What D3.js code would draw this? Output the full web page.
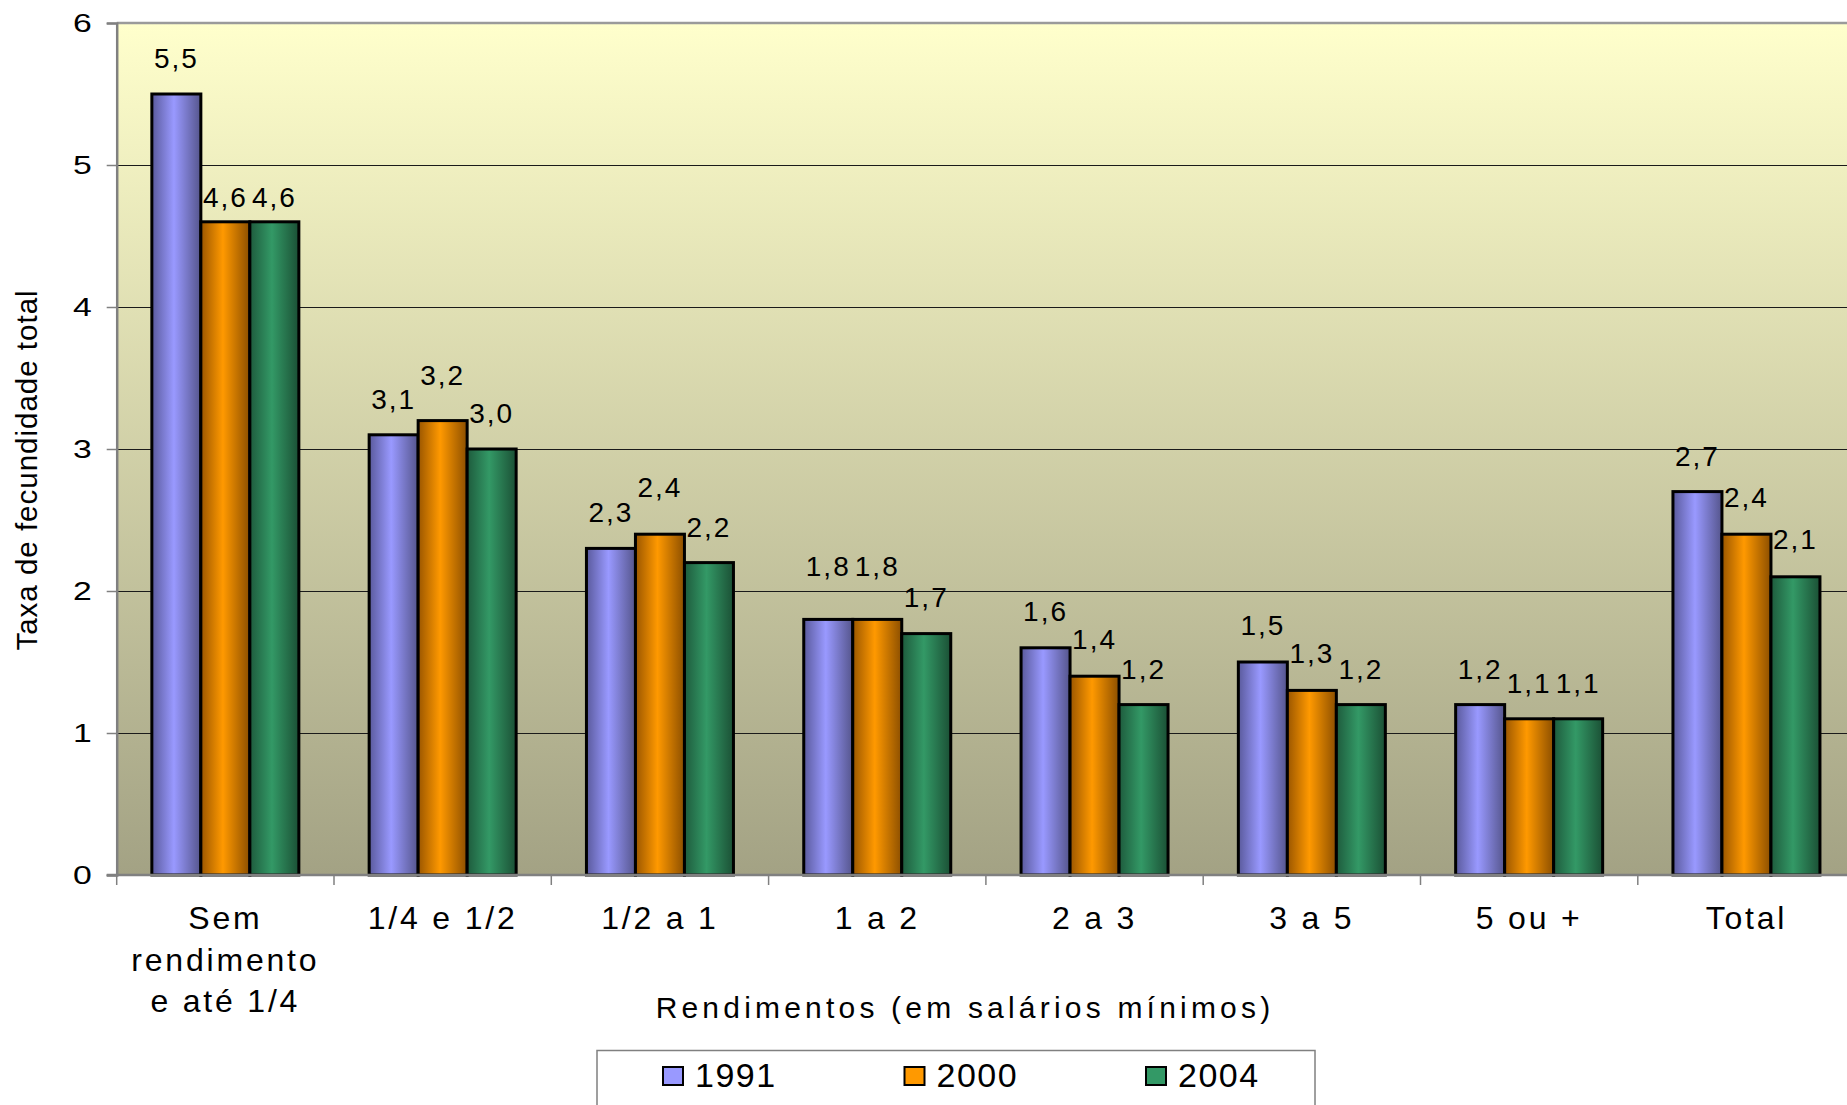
<!DOCTYPE html>
<html>
<head>
<meta charset="utf-8">
<script src="https://cdn.jsdelivr.net/npm/d3@7"></script>
<style>
  html, body { margin: 0; padding: 0; background: #ffffff; overflow: hidden; }
  svg { display: block; }
  text { font-family: "Liberation Sans", Arial, Helvetica, sans-serif; fill: #000; }
</style>
</head>
<body>
<svg id="chart" width="1847" height="1105"></svg>
<script>
// Taxa de fecundidade total por classe de rendimento (salários mínimos)
const categories = [
  ["Sem", "rendimento", "e até 1/4"],
  ["1/4 e 1/2"],
  ["1/2 a 1"],
  ["1 a 2"],
  ["2 a 3"],
  ["3 a 5"],
  ["5 ou +"],
  ["Total"]
];
const seriesNames = ["1991", "2000", "2004"];
const values1991 = [5.5, 3.1, 2.3, 1.8, 1.6, 1.5, 1.2, 2.7];
const values2000 = [4.6, 3.2, 2.4, 1.8, 1.4, 1.3, 1.1, 2.4];
const values2004 = [4.6, 3.0, 2.2, 1.7, 1.2, 1.2, 1.1, 2.1];
const yTicks = [0, 1, 2, 3, 4, 5, 6];
const yTitle = "Taxa de fecundidade total";
const xTitle = "Rendimentos (em salários mínimos)";

// extra lift (px) of a few value labels that sit higher/lower above their bar
const labelLift = [
  [0, -11, -11],
  [0, 10, 0],
  [0, 11, 0],
  [17, 17, 1],
  [1, 1, 0],
  [1, 1, 0],
  [0, 0, 0],
  [0, 1, 2]
];

const seriesValues = [values1991, values2000, values2004];
const colors = [
  { dark: "#5a5a9c", mid: "#9999ff", dark2: "#55558c" },
  { dark: "#9a5600", mid: "#ff9900", dark2: "#8c4f00" },
  { dark: "#1e5b3d", mid: "#339966", dark2: "#1b5035" }
];

const svg = d3.select("#chart");
const catKeys = categories.map(c => c.join(" "));

const plotLeft = 116.7, plotTop = 23, plotBottom = 875;
const step = 217.3;
const plotRight = plotLeft + step * categories.length;
const pad = 0.3235;

const x0 = d3.scaleBand().domain(catKeys).range([plotLeft, plotRight])
  .paddingInner(pad).paddingOuter(pad / 2);
const x1 = d3.scaleBand().domain(seriesNames).range([0, x0.bandwidth()]);
const y = d3.scaleLinear().domain([0, 6]).range([plotBottom, plotTop]);

// gradients
const defs = svg.append("defs");
const bg = defs.append("linearGradient").attr("id", "plotBg")
  .attr("x1", 0).attr("y1", 0).attr("x2", 0).attr("y2", 1);
bg.append("stop").attr("offset", "0%").attr("stop-color", "#ffffcc");
bg.append("stop").attr("offset", "100%").attr("stop-color", "#a3a284");

colors.forEach((c, i) => {
  const g = defs.append("linearGradient").attr("id", "bar" + i)
    .attr("x1", 0).attr("y1", 0).attr("x2", 1).attr("y2", 0);
  g.append("stop").attr("offset", "0%").attr("stop-color", c.dark);
  g.append("stop").attr("offset", "45%").attr("stop-color", c.mid);
  g.append("stop").attr("offset", "100%").attr("stop-color", c.dark2);
});

// plot area
svg.append("rect")
  .attr("x", plotLeft).attr("y", plotTop)
  .attr("width", plotRight - plotLeft).attr("height", plotBottom - plotTop)
  .attr("fill", "url(#plotBg)");

// gridlines
svg.append("g").selectAll("line")
  .data(yTicks.filter(t => t > 0 && t < 6))
  .join("line")
  .attr("x1", plotLeft).attr("x2", plotRight)
  .attr("y1", d => Math.round(y(d)) + 0.5).attr("y2", d => Math.round(y(d)) + 0.5)
  .attr("stroke", "#1a1a1a").attr("stroke-width", 1.2);

// top border
svg.append("line")
  .attr("x1", plotLeft).attr("x2", plotRight)
  .attr("y1", plotTop).attr("y2", plotTop)
  .attr("stroke", "#9a9a9a").attr("stroke-width", 2.5);

// bars
const groups = svg.append("g").selectAll("g")
  .data(catKeys)
  .join("g")
  .attr("transform", d => `translate(${x0(d)},0)`);

groups.selectAll("rect")
  .data((d, ci) => seriesNames.map((s, si) => ({ s, si, ci, v: seriesValues[si][ci] })))
  .join("rect")
  .attr("x", d => x1(d.s))
  .attr("y", d => y(d.v))
  .attr("width", x1.bandwidth())
  .attr("height", d => y(0) - y(d.v))
  .attr("fill", d => `url(#bar${d.si})`)
  .attr("stroke", "#000")
  .attr("stroke-width", 3);

// value labels
groups.selectAll("text")
  .data((d, ci) => seriesNames.map((s, si) => ({ s, si, ci, v: seriesValues[si][ci] })))
  .join("text")
  .attr("x", d => x1(d.s) + x1.bandwidth() / 2)
  .attr("y", d => y(d.v) - 26 - labelLift[d.ci][d.si])
  .attr("text-anchor", "middle")
  .attr("font-size", 28)
  .attr("letter-spacing", 2)
  .text(d => d3.format(".1f")(d.v).replace(".", ","));

// y axis (tick digits drawn wide)
const tickStretch = 1.35;
const yAxis = d3.axisLeft(y).tickValues(yTicks).tickSize(10).tickPadding(0)
  .tickFormat(d3.format("d"));
const yg = svg.append("g").attr("transform", `translate(${plotLeft},0)`).call(yAxis);
yg.select(".domain").attr("stroke", "#808080").attr("stroke-width", 2.5);
yg.selectAll(".tick line").attr("stroke", "#808080").attr("stroke-width", 1.5);
yg.selectAll(".tick text")
  .attr("font-size", 25)
  .attr("font-family", '"Liberation Sans", Arial, sans-serif').attr("fill", "#000")
  .attr("x", -25 / tickStretch)
  .attr("transform", `scale(${tickStretch},1)`);

// x axis line and category boundary ticks
svg.append("line")
  .attr("x1", plotLeft - 10).attr("x2", plotRight)
  .attr("y1", plotBottom).attr("y2", plotBottom)
  .attr("stroke", "#808080").attr("stroke-width", 2.5);
svg.append("g").selectAll("line")
  .data(d3.range(categories.length + 1))
  .join("line")
  .attr("x1", i => i < categories.length ? x0(catKeys[i]) - x0.step() * pad / 2 : plotRight)
  .attr("x2", i => i < categories.length ? x0(catKeys[i]) - x0.step() * pad / 2 : plotRight)
  .attr("y1", plotBottom).attr("y2", plotBottom + 10)
  .attr("stroke", "#808080").attr("stroke-width", 1.5);

// category labels
const catLabels = svg.append("g").selectAll("text")
  .data(categories)
  .join("text")
  .attr("text-anchor", "middle")
  .attr("font-size", 32)
  .attr("letter-spacing", 2.8)
  .attr("x", (d, i) => x0(catKeys[i]) + x0.bandwidth() / 2)
  .attr("y", 929);
catLabels.selectAll("tspan")
  .data(d => d)
  .join("tspan")
  .attr("x", function () { return this.parentNode.getAttribute("x"); })
  .attr("dy", (d, i) => i === 0 ? 0 : 41.5)
  .text(d => d);

// axis titles
svg.append("text")
  .attr("transform", `translate(37,470) rotate(-90)`)
  .attr("text-anchor", "middle")
  .attr("font-size", 29.5)
  .attr("letter-spacing", 1)
  .text(yTitle);

svg.append("text")
  .attr("x", 965).attr("y", 1018)
  .attr("text-anchor", "middle")
  .attr("font-size", 30)
  .attr("letter-spacing", 4.2)
  .text(xTitle);

// legend
const legend = svg.append("g");
legend.append("rect")
  .attr("x", 597).attr("y", 1050.5)
  .attr("width", 718).attr("height", 90)
  .attr("fill", "#fff").attr("stroke", "#808080").attr("stroke-width", 1.5);
const legendX = d3.scalePoint().domain(seriesNames).range([663, 1146]);
const items = legend.selectAll("g.item")
  .data(seriesNames)
  .join("g").attr("class", "item")
  .attr("transform", d => `translate(${legendX(d)},1067)`);
items.append("rect")
  .attr("width", 20).attr("height", 18)
  .attr("fill", (d, i) => colors[i].mid)
  .attr("stroke", "#000").attr("stroke-width", 2);
items.append("text")
  .attr("x", 32).attr("y", 20)
  .attr("font-size", 34)
  .attr("letter-spacing", 1.5)
  .text(d => d);
</script>
</body>
</html>
